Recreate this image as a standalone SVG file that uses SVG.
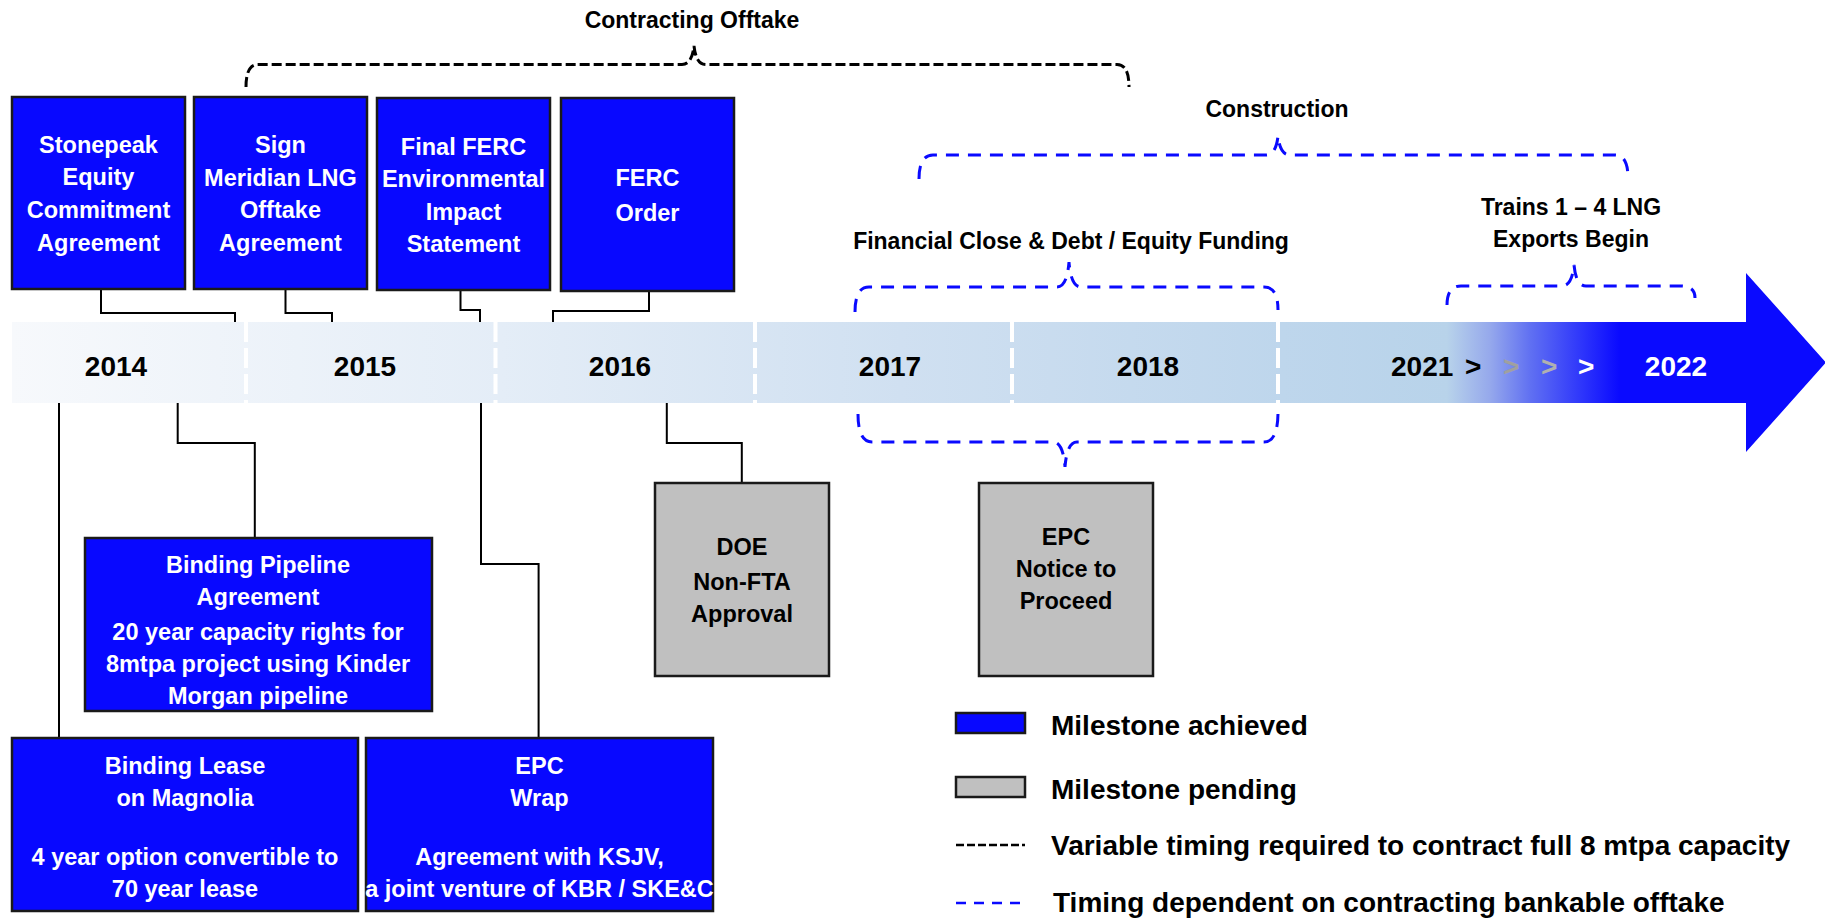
<svg xmlns="http://www.w3.org/2000/svg" width="1825" height="919" viewBox="0 0 1825 919">
<defs>
<style>
text{font-family:"Liberation Sans",Arial,sans-serif;font-weight:bold;}
.bt{fill:#ffffff;font-size:23.5px;text-anchor:middle;}
.gt{fill:#000000;font-size:23.5px;text-anchor:middle;}
.yr{fill:#000000;font-size:28px;text-anchor:middle;}
.lbl{fill:#000000;font-size:23px;text-anchor:middle;}
.leg{fill:#000000;font-size:28px;}
.ach{fill:#0808ff;stroke:#1a1a1a;stroke-width:2.5;}
.pen{fill:#c0c0c0;stroke:#1a1a1a;stroke-width:2.5;}
.con{fill:none;stroke:#000000;stroke-width:2;}
.bdash{fill:none;stroke:#000000;stroke-width:3;stroke-dasharray:10 4;}
.udash{fill:none;stroke:#0a0aff;stroke-width:3;stroke-dasharray:13 9;}
.div{stroke:#ffffff;stroke-width:4;stroke-dasharray:20 6;}
</style>
<linearGradient id="barg" gradientUnits="userSpaceOnUse" x1="12" y1="0" x2="1826" y2="0">
<stop offset="0" stop-color="#f7f9fc"/>
<stop offset="0.27" stop-color="#e4edf7"/>
<stop offset="0.49" stop-color="#d0e0f1"/>
<stop offset="0.70" stop-color="#bed6ec"/>
<stop offset="0.791" stop-color="#b8d3ea"/>
<stop offset="0.815" stop-color="#95a8ec"/>
<stop offset="0.837" stop-color="#6070f2"/>
<stop offset="0.864" stop-color="#3038fb"/>
<stop offset="0.886" stop-color="#0a0aff"/>
<stop offset="1" stop-color="#0a0aff"/>
</linearGradient>
</defs>
<rect width="1825" height="919" fill="#ffffff"/>

<g id="timeline">
<path d="M12,322 H1746 V273 L1826,362.5 L1746,452 V403 H12 Z" fill="url(#barg)"/>
<line class="div" x1="246" y1="322" x2="246" y2="403"/>
<line class="div" x1="495.5" y1="322" x2="495.5" y2="403"/>
<line class="div" x1="755" y1="322" x2="755" y2="403"/>
<line class="div" x1="1012" y1="322" x2="1012" y2="403"/>
<line class="div" x1="1278" y1="322" x2="1278" y2="403"/>
<text class="yr" x="116" y="376">2014</text>
<text class="yr" x="365" y="376">2015</text>
<text class="yr" x="620" y="376">2016</text>
<text class="yr" x="890" y="376">2017</text>
<text class="yr" x="1148" y="376">2018</text>
<text class="yr" x="1391" y="376" style="text-anchor:start">2021</text>
<text class="yr" x="1465" y="376" style="text-anchor:start">&gt;</text>
<text class="yr" x="1503" y="376" style="text-anchor:start;fill:#a0a0a0">&gt;</text>
<text class="yr" x="1541" y="376" style="text-anchor:start;fill:#b0b0b0">&gt;</text>
<text class="yr" x="1578" y="376" style="text-anchor:start;fill:#ffffff">&gt;</text>
<text class="yr" x="1676" y="376" style="fill:#ffffff">2022</text>
</g>

<g id="connectors">
<path class="con" d="M101,289 V313 H235 V322"/>
<path class="con" d="M285.5,289 V313 H332 V322"/>
<path class="con" d="M460.5,290 V310 H480 V322"/>
<path class="con" d="M553,322 V311 H649 V291"/>
<path class="con" d="M59,403 V738"/>
<path class="con" d="M177.7,403 V443 H254.8 V538"/>
<path class="con" d="M481,403 V564 H538.6 V738"/>
<path class="con" d="M666.8,403 V443 H741.8 V483"/>
</g>

<g id="braces">
<path class="bdash" d="M246,87 Q246,64.5 258,64.5 L682,64.5 Q692,64.5 694,46 Q696,64.5 706,64.5 L1117,64.5 Q1129,64.5 1129,87"/>
<path class="udash" d="M919,179 Q919,155 933,155 L1266,155 Q1276,155 1278,136 Q1280,155 1290,155 L1615,155 Q1628,155 1628,178"/>
<path class="udash" d="M855,312 Q855,287 869,287 L1057,287 Q1067,287 1069,262 Q1071,287 1081,287 L1264,287 Q1278,287 1278,310"/>
<path class="udash" d="M858,414 Q858,442 872,442 L1053,442 Q1063,442 1065,467 Q1067,442 1077,442 L1264,442 Q1278,442 1278,412"/>
<path class="udash" d="M1447,305 Q1447,286 1461,286 L1562,286 Q1572,286 1574,265 Q1576,286 1586,286 L1681,286 Q1695,286 1695,298"/>
<text class="lbl" x="692" y="28">Contracting Offtake</text>
<text class="lbl" x="1277" y="117">Construction</text>
<text class="lbl" x="1071" y="249">Financial Close &amp; Debt / Equity Funding</text>
<text class="lbl" x="1571" y="215">Trains 1 – 4 LNG</text>
<text class="lbl" x="1571" y="247">Exports Begin</text>
</g>

<g id="stonepeak">
<rect class="ach" x="12" y="97" width="173" height="192"/>
<text class="bt" x="98.5" y="152.5">Stonepeak</text>
<text class="bt" x="98.5" y="185">Equity</text>
<text class="bt" x="98.5" y="218">Commitment</text>
<text class="bt" x="98.5" y="251">Agreement</text>
</g>
<g id="meridian">
<rect class="ach" x="194" y="97" width="173" height="192"/>
<text class="bt" x="280.5" y="153">Sign</text>
<text class="bt" x="280.5" y="185.5">Meridian LNG</text>
<text class="bt" x="280.5" y="218">Offtake</text>
<text class="bt" x="280.5" y="250.5">Agreement</text>
</g>
<g id="ferc-eis">
<rect class="ach" x="377" y="98" width="173" height="192"/>
<text class="bt" x="463.5" y="155">Final FERC</text>
<text class="bt" x="463.5" y="187">Environmental</text>
<text class="bt" x="463.5" y="219.5">Impact</text>
<text class="bt" x="463.5" y="251.5">Statement</text>
</g>
<g id="ferc-order">
<rect class="ach" x="561" y="98" width="173" height="193"/>
<text class="bt" x="647.5" y="186">FERC</text>
<text class="bt" x="647.5" y="220.5">Order</text>
</g>

<g id="pipeline">
<rect class="ach" x="85" y="538" width="347" height="173"/>
<text class="bt" x="258" y="573">Binding Pipeline</text>
<text class="bt" x="258" y="605">Agreement</text>
<text class="bt" x="258" y="640">20 year capacity rights for</text>
<text class="bt" x="258" y="672">8mtpa project using Kinder</text>
<text class="bt" x="258" y="704">Morgan pipeline</text>
</g>
<g id="lease">
<rect class="ach" x="12" y="738" width="346" height="173"/>
<text class="bt" x="185" y="774">Binding Lease</text>
<text class="bt" x="185" y="806">on Magnolia</text>
<text class="bt" x="185" y="865">4 year option convertible to</text>
<text class="bt" x="185" y="897">70 year lease</text>
</g>
<g id="epc-wrap">
<rect class="ach" x="366" y="738" width="347" height="173"/>
<text class="bt" x="539.5" y="774">EPC</text>
<text class="bt" x="539.5" y="806">Wrap</text>
<text class="bt" x="539.5" y="865">Agreement with KSJV,</text>
<text class="bt" x="539.5" y="897">a joint venture of KBR / SKE&amp;C</text>
</g>
<g id="doe">
<rect class="pen" x="655" y="483" width="174" height="193"/>
<text class="gt" x="742" y="555">DOE</text>
<text class="gt" x="742" y="590">Non-FTA</text>
<text class="gt" x="742" y="622">Approval</text>
</g>
<g id="epc-ntp">
<rect class="pen" x="979" y="483" width="174" height="193"/>
<text class="gt" x="1066" y="545">EPC</text>
<text class="gt" x="1066" y="577">Notice to</text>
<text class="gt" x="1066" y="609">Proceed</text>
</g>

<g id="legend">
<rect class="ach" x="956" y="713" width="69" height="20"/>
<text class="leg" x="1051" y="735">Milestone achieved</text>
<rect class="pen" x="956" y="777" width="69" height="20"/>
<text class="leg" x="1051" y="799">Milestone pending</text>
<line class="bdash" x1="956" y1="845" x2="1025" y2="845" style="stroke-width:2.5;stroke-dasharray:8 3"/>
<text class="leg" x="1051" y="855">Variable timing required to contract full 8 mtpa capacity</text>
<line class="udash" x1="956" y1="903" x2="1025" y2="903" style="stroke-width:2.5;stroke-dasharray:10 8"/>
<text class="leg" x="1053" y="912">Timing dependent on contracting bankable offtake</text>
</g>
</svg>
